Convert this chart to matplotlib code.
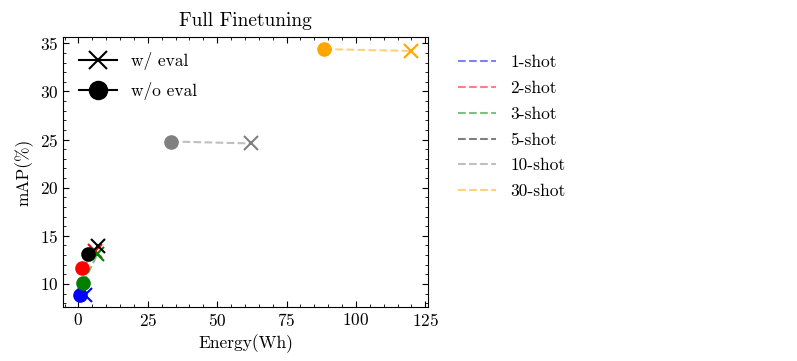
import matplotlib
matplotlib.use("Agg")
import matplotlib.pyplot as plt
from matplotlib.lines import Line2D
from matplotlib.ticker import MultipleLocator

# Data
shots = ["1-shot", "2-shot", "3-shot", "5-shot", "10-shot", "30-shot"]
colors = ["blue", "red", "green", "black", "gray", "orange"]
energy_wo_eval = [0.4, 1.4, 1.8, 3.6, 33.5, 88.6]
map_wo_eval = [8.9, 11.7, 10.1, 13.1, 24.8, 34.4]
energy_w_eval = [2.2, 6.1, 6.8, 7.2, 62.3, 120.0]
map_w_eval = [8.9, 13.4, 13.1, 13.9, 24.6, 34.2]

plt.rcParams["font.family"] = "serif"
plt.rcParams["font.serif"] = ["cmr10", "DejaVu Serif"]
plt.rcParams["mathtext.fontset"] = "cm"
plt.rcParams["axes.formatter.use_mathtext"] = True
plt.rcParams["xtick.direction"] = "in"
plt.rcParams["ytick.direction"] = "in"
plt.rcParams["xtick.top"] = True
plt.rcParams["ytick.right"] = True
plt.rcParams["xtick.minor.visible"] = True
plt.rcParams["ytick.minor.visible"] = True
plt.rcParams["xtick.major.size"] = 4
plt.rcParams["ytick.major.size"] = 4
plt.rcParams["xtick.minor.size"] = 2
plt.rcParams["ytick.minor.size"] = 2

fig = plt.figure(figsize=(7.97, 3.61), dpi=100)
ax = fig.add_axes([0.079, 0.15, 0.458, 0.748])

shot_handles = []
for i, name in enumerate(shots):
    ax.plot([energy_wo_eval[i], energy_w_eval[i]], [map_wo_eval[i], map_w_eval[i]],
            "--", color=colors[i], alpha=0.5)
    ax.plot(energy_wo_eval[i], map_wo_eval[i], "o", color=colors[i], markersize=9.5)
    ax.plot(energy_w_eval[i], map_w_eval[i], "x", color=colors[i], markersize=9.5,
            markeredgewidth=1.5)
    shot_handles.append(Line2D([], [], linestyle="--", color=colors[i], alpha=0.5, label=name))

ax.xaxis.set_major_locator(MultipleLocator(25))
ax.xaxis.set_minor_locator(MultipleLocator(5))
ax.yaxis.set_major_locator(MultipleLocator(5))
ax.yaxis.set_minor_locator(MultipleLocator(1))

ax.set_title("Full Finetuning", fontsize=14, pad=8)
ax.set_xlabel("Energy(Wh)", fontsize=12.5)
ax.set_ylabel("mAP(%)", fontsize=12.5)
ax.tick_params(labelsize=12.5)

marker_handles = [
    Line2D([], [], color="black", marker="x", markersize=13, markeredgewidth=1.5, label="w/ eval"),
    Line2D([], [], color="black", marker="o", markersize=13, label="w/o eval"),
]
leg1 = ax.legend(handles=marker_handles, loc="upper left", frameon=False, fontsize=12.5,
                 handlelength=2.2, labelspacing=0.65)
ax.add_artist(leg1)
ax.legend(handles=shot_handles, loc="upper left", bbox_to_anchor=(1.04, 0.99),
          frameon=False, fontsize=12.5, labelspacing=0.6, handlelength=2.2)

fig.savefig("out.png", dpi=100)
